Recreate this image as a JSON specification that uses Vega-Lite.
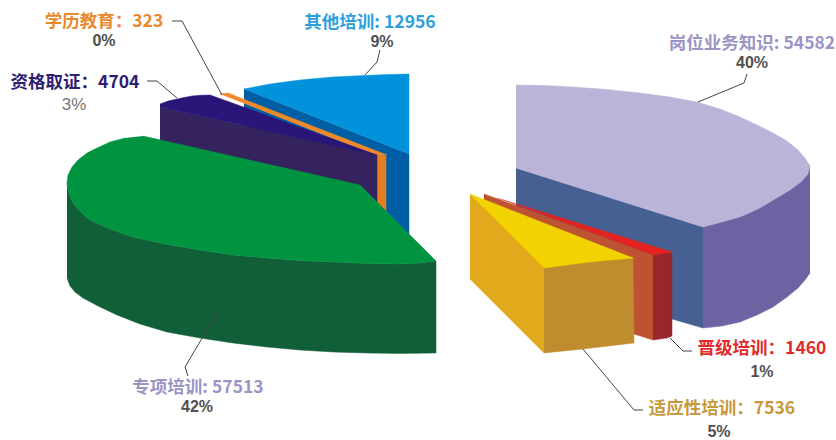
{"$schema":"https://vega.github.io/schema/vega-lite/v6.json","width":836,"height":440,"autosize":{"type":"fit","contains":"padding"},"padding":0,"background":"white","view":{"stroke":null},
"datasets":{
"shapes":[
{"part":"其他培训-侧","n":1,"x":244,"y":89},{"part":"其他培训-侧","n":2,"x":409,"y":154},{"part":"其他培训-侧","n":3,"x":409,"y":240},{"part":"其他培训-侧","n":4,"x":244,"y":240},
{"part":"其他培训-顶","n":1,"x":244,"y":89},{"part":"其他培训-顶","n":2,"x":257,"y":86.5},{"part":"其他培训-顶","n":3,"x":270,"y":84},{"part":"其他培训-顶","n":4,"x":285,"y":82},{"part":"其他培训-顶","n":5,"x":300,"y":80},{"part":"其他培训-顶","n":6,"x":316,"y":78.5},{"part":"其他培训-顶","n":7,"x":333,"y":77},{"part":"其他培训-顶","n":8,"x":349,"y":76.2},{"part":"其他培训-顶","n":9,"x":365,"y":75.5},{"part":"其他培训-顶","n":10,"x":387,"y":74.6},{"part":"其他培训-顶","n":11,"x":409,"y":74},{"part":"其他培训-顶","n":12,"x":409,"y":154},
{"part":"学历教育-侧","n":1,"x":377,"y":156},{"part":"学历教育-侧","n":2,"x":386,"y":156},{"part":"学历教育-侧","n":3,"x":386,"y":211},{"part":"学历教育-侧","n":4,"x":377,"y":202},
{"part":"学历教育-顶","n":1,"x":220,"y":94},{"part":"学历教育-顶","n":2,"x":228,"y":93},{"part":"学历教育-顶","n":3,"x":387,"y":155},{"part":"学历教育-顶","n":4,"x":377,"y":156},
{"part":"资格取证-侧","n":1,"x":160,"y":107},{"part":"资格取证-侧","n":2,"x":377,"y":155},{"part":"资格取证-侧","n":3,"x":377,"y":202},{"part":"资格取证-侧","n":4,"x":360,"y":186},{"part":"资格取证-侧","n":5,"x":160,"y":142},
{"part":"资格取证-顶","n":1,"x":160,"y":104},{"part":"资格取证-顶","n":2,"x":168,"y":101},{"part":"资格取证-顶","n":3,"x":177,"y":99},{"part":"资格取证-顶","n":4,"x":184,"y":97.5},{"part":"资格取证-顶","n":5,"x":192,"y":96},{"part":"资格取证-顶","n":6,"x":200,"y":95.3},{"part":"资格取证-顶","n":7,"x":210,"y":95},{"part":"资格取证-顶","n":8,"x":377,"y":155},{"part":"资格取证-顶","n":9,"x":160,"y":107},
{"part":"专项培训-侧","n":1,"x":67,"y":183},{"part":"专项培训-侧","n":2,"x":68,"y":190},{"part":"专项培训-侧","n":3,"x":70,"y":196},{"part":"专项培训-侧","n":4,"x":73,"y":203},{"part":"专项培训-侧","n":5,"x":78,"y":209},{"part":"专项培训-侧","n":6,"x":84,"y":215},{"part":"专项培训-侧","n":7,"x":90,"y":220},{"part":"专项培训-侧","n":8,"x":110,"y":229},{"part":"专项培训-侧","n":9,"x":133,"y":237},{"part":"专项培训-侧","n":10,"x":165,"y":244},{"part":"专项培训-侧","n":11,"x":200,"y":250},{"part":"专项培训-侧","n":12,"x":233,"y":255},{"part":"专项培训-侧","n":13,"x":267,"y":258},{"part":"专项培训-侧","n":14,"x":300,"y":260.5},{"part":"专项培训-侧","n":15,"x":333,"y":262},{"part":"专项培训-侧","n":16,"x":367,"y":263.5},{"part":"专项培训-侧","n":17,"x":400,"y":264},{"part":"专项培训-侧","n":18,"x":420,"y":263},{"part":"专项培训-侧","n":19,"x":436,"y":261},{"part":"专项培训-侧","n":20,"x":436,"y":353},{"part":"专项培训-侧","n":21,"x":400,"y":353.5},{"part":"专项培训-侧","n":22,"x":367,"y":353},{"part":"专项培训-侧","n":23,"x":333,"y":352},{"part":"专项培训-侧","n":24,"x":300,"y":350},{"part":"专项培训-侧","n":25,"x":267,"y":347},{"part":"专项培训-侧","n":26,"x":233,"y":343},{"part":"专项培训-侧","n":27,"x":200,"y":338},{"part":"专项培训-侧","n":28,"x":167,"y":332},{"part":"专项培训-侧","n":29,"x":140,"y":324},{"part":"专项培训-侧","n":30,"x":117,"y":315},{"part":"专项培训-侧","n":31,"x":98,"y":306},{"part":"专项培训-侧","n":32,"x":83,"y":298},{"part":"专项培训-侧","n":33,"x":75,"y":292},{"part":"专项培训-侧","n":34,"x":70,"y":286},{"part":"专项培训-侧","n":35,"x":67,"y":278},
{"part":"专项培训-顶","n":1,"x":143,"y":136},{"part":"专项培训-顶","n":2,"x":360,"y":185},{"part":"专项培训-顶","n":3,"x":436,"y":261},{"part":"专项培训-顶","n":4,"x":420,"y":263},{"part":"专项培训-顶","n":5,"x":400,"y":264},{"part":"专项培训-顶","n":6,"x":367,"y":263.5},{"part":"专项培训-顶","n":7,"x":333,"y":262},{"part":"专项培训-顶","n":8,"x":300,"y":260.5},{"part":"专项培训-顶","n":9,"x":267,"y":258},{"part":"专项培训-顶","n":10,"x":233,"y":255},{"part":"专项培训-顶","n":11,"x":200,"y":250},{"part":"专项培训-顶","n":12,"x":165,"y":244},{"part":"专项培训-顶","n":13,"x":133,"y":237},{"part":"专项培训-顶","n":14,"x":110,"y":229},{"part":"专项培训-顶","n":15,"x":90,"y":220},{"part":"专项培训-顶","n":16,"x":84,"y":215},{"part":"专项培训-顶","n":17,"x":78,"y":209},{"part":"专项培训-顶","n":18,"x":73,"y":203},{"part":"专项培训-顶","n":19,"x":70,"y":196},{"part":"专项培训-顶","n":20,"x":68,"y":190},{"part":"专项培训-顶","n":21,"x":67,"y":183},{"part":"专项培训-顶","n":22,"x":68,"y":175},{"part":"专项培训-顶","n":23,"x":72,"y":167},{"part":"专项培训-顶","n":24,"x":78,"y":160},{"part":"专项培训-顶","n":25,"x":87,"y":153},{"part":"专项培训-顶","n":26,"x":97,"y":148},{"part":"专项培训-顶","n":27,"x":110,"y":142},{"part":"专项培训-顶","n":28,"x":125,"y":138},
{"part":"岗位业务知识-内","n":1,"x":516,"y":168},{"part":"岗位业务知识-内","n":2,"x":703,"y":227},{"part":"岗位业务知识-内","n":3,"x":703,"y":328},{"part":"岗位业务知识-内","n":4,"x":672,"y":319},{"part":"岗位业务知识-内","n":5,"x":516,"y":250},
{"part":"岗位业务知识-侧","n":1,"x":810,"y":165},{"part":"岗位业务知识-侧","n":2,"x":703,"y":227},{"part":"岗位业务知识-侧","n":3,"x":703,"y":328},{"part":"岗位业务知识-侧","n":4,"x":722,"y":326},{"part":"岗位业务知识-侧","n":5,"x":740,"y":322},{"part":"岗位业务知识-侧","n":6,"x":757,"y":315},{"part":"岗位业务知识-侧","n":7,"x":773,"y":307},{"part":"岗位业务知识-侧","n":8,"x":787,"y":297},{"part":"岗位业务知识-侧","n":9,"x":798,"y":288},{"part":"岗位业务知识-侧","n":10,"x":805,"y":280},{"part":"岗位业务知识-侧","n":11,"x":810,"y":273},
{"part":"岗位业务知识-顶","n":1,"x":516,"y":85},{"part":"岗位业务知识-顶","n":2,"x":545,"y":85.5},{"part":"岗位业务知识-顶","n":3,"x":573,"y":87},{"part":"岗位业务知识-顶","n":4,"x":607,"y":89.5},{"part":"岗位业务知识-顶","n":5,"x":640,"y":93},{"part":"岗位业务知识-顶","n":6,"x":670,"y":97},{"part":"岗位业务知识-顶","n":7,"x":697,"y":102},{"part":"岗位业务知识-顶","n":8,"x":720,"y":109},{"part":"岗位业务知识-顶","n":9,"x":740,"y":117},{"part":"岗位业务知识-顶","n":10,"x":757,"y":125},{"part":"岗位业务知识-顶","n":11,"x":773,"y":133},{"part":"岗位业务知识-顶","n":12,"x":787,"y":141},{"part":"岗位业务知识-顶","n":13,"x":798,"y":150},{"part":"岗位业务知识-顶","n":14,"x":805,"y":158},{"part":"岗位业务知识-顶","n":15,"x":810,"y":166},{"part":"岗位业务知识-顶","n":16,"x":808,"y":174},{"part":"岗位业务知识-顶","n":17,"x":801,"y":182},{"part":"岗位业务知识-顶","n":18,"x":790,"y":190},{"part":"岗位业务知识-顶","n":19,"x":775,"y":199},{"part":"岗位业务知识-顶","n":20,"x":758,"y":209},{"part":"岗位业务知识-顶","n":21,"x":740,"y":217},{"part":"岗位业务知识-顶","n":22,"x":722,"y":222},{"part":"岗位业务知识-顶","n":23,"x":703,"y":227},{"part":"岗位业务知识-顶","n":24,"x":516,"y":168},
{"part":"晋级培训-内","n":1,"x":484,"y":194},{"part":"晋级培训-内","n":2,"x":653,"y":255},{"part":"晋级培训-内","n":3,"x":653,"y":340},{"part":"晋级培训-内","n":4,"x":634,"y":334},{"part":"晋级培训-内","n":5,"x":484,"y":270},
{"part":"晋级培训-侧","n":1,"x":653,"y":255},{"part":"晋级培训-侧","n":2,"x":672,"y":252},{"part":"晋级培训-侧","n":3,"x":672,"y":336},{"part":"晋级培训-侧","n":4,"x":667,"y":338},{"part":"晋级培训-侧","n":5,"x":653,"y":340},
{"part":"晋级培训-顶","n":1,"x":497,"y":198},{"part":"晋级培训-顶","n":2,"x":672,"y":252},{"part":"晋级培训-顶","n":3,"x":653,"y":255},
{"part":"适应性培训-内","n":1,"x":470,"y":194},{"part":"适应性培训-内","n":2,"x":544,"y":268},{"part":"适应性培训-内","n":3,"x":544,"y":353},{"part":"适应性培训-内","n":4,"x":470,"y":279},
{"part":"适应性培训-侧","n":1,"x":544,"y":268},{"part":"适应性培训-侧","n":2,"x":590,"y":262},{"part":"适应性培训-侧","n":3,"x":633,"y":258},{"part":"适应性培训-侧","n":4,"x":634,"y":343},{"part":"适应性培训-侧","n":5,"x":583,"y":349},{"part":"适应性培训-侧","n":6,"x":544,"y":353},
{"part":"适应性培训-顶","n":1,"x":470,"y":194},{"part":"适应性培训-顶","n":2,"x":633,"y":258},{"part":"适应性培训-顶","n":3,"x":590,"y":262},{"part":"适应性培训-顶","n":4,"x":544,"y":268}
],
"leaders":[
{"name":"其他培训","n":1,"x":365,"y":75},{"name":"其他培训","n":2,"x":377,"y":62},{"name":"其他培训","n":3,"x":380,"y":50},
{"name":"学历教育","n":1,"x":172,"y":21},{"name":"学历教育","n":2,"x":182,"y":21},{"name":"学历教育","n":3,"x":222,"y":95},
{"name":"资格取证","n":1,"x":147,"y":81},{"name":"资格取证","n":2,"x":157,"y":81},{"name":"资格取证","n":3,"x":177,"y":98},
{"name":"专项培训","n":1,"x":217,"y":313},{"name":"专项培训","n":2,"x":185,"y":367},{"name":"专项培训","n":3,"x":188,"y":376},
{"name":"岗位业务知识","n":1,"x":747,"y":74},{"name":"岗位业务知识","n":2,"x":744,"y":83},{"name":"岗位业务知识","n":3,"x":698,"y":102},
{"name":"晋级培训","n":1,"x":670,"y":338},{"name":"晋级培训","n":2,"x":683,"y":351},{"name":"晋级培训","n":3,"x":692,"y":351},
{"name":"适应性培训","n":1,"x":583,"y":349},{"name":"适应性培训","n":2,"x":634,"y":410},{"name":"适应性培训","n":3,"x":643,"y":410}
],
"labels":[
{"text":"学历教育：323","name":"学历教育","x":104,"y":22},
{"text":"其他培训: 12956","name":"其他培训","x":370,"y":23},
{"text":"资格取证：4704","name":"资格取证","x":75,"y":83},
{"text":"专项培训: 57513","name":"专项培训","x":198,"y":388},
{"text":"岗位业务知识: 54582","name":"岗位业务知识","x":752,"y":44},
{"text":"晋级培训：1460","name":"晋级培训","x":762,"y":349},
{"text":"适应性培训：7536","name":"适应性培训","x":722,"y":409}
],
"shares":[
{"text":"0%","x":104,"y":41},{"text":"9%","x":382,"y":42},{"text":"42%","x":197,"y":407},{"text":"40%","x":752,"y":63},{"text":"1%","x":762,"y":372},{"text":"5%","x":719,"y":432}
],
"thin":[{"text":"3%","x":74,"y":105}]
},
"layer":[
{"data":{"name":"shapes"},"mark":{"type":"line","strokeWidth":0.5,"interpolate":"linear"},
"encoding":{
"x":{"field":"x","type":"quantitative","scale":{"domain":[0,836],"nice":false,"zero":false},"axis":null},
"y":{"field":"y","type":"quantitative","scale":{"domain":[440,0],"nice":false,"zero":false},"axis":null},
"order":{"field":"n","type":"quantitative"},
"detail":{"field":"part","type":"nominal"},
"fill":{"field":"part","type":"nominal","legend":null,"scale":{"domain":["其他培训-侧","其他培训-顶","学历教育-侧","学历教育-顶","资格取证-侧","资格取证-顶","专项培训-侧","专项培训-顶","岗位业务知识-内","岗位业务知识-侧","岗位业务知识-顶","晋级培训-内","晋级培训-侧","晋级培训-顶","适应性培训-内","适应性培训-侧","适应性培训-顶"],"range":["#005FA4","#0092DB","#E67E22","#EE8A2A","#35235F","#2A1678","#115F38","#009440","#466092","#6D62A2","#B9B4D8","#BD5330","#98262A","#E2231F","#E3A91C","#C08D2E","#F2D200"]}},
"stroke":{"field":"part","type":"nominal","legend":null,"scale":{"domain":["其他培训-侧","其他培训-顶","学历教育-侧","学历教育-顶","资格取证-侧","资格取证-顶","专项培训-侧","专项培训-顶","岗位业务知识-内","岗位业务知识-侧","岗位业务知识-顶","晋级培训-内","晋级培训-侧","晋级培训-顶","适应性培训-内","适应性培训-侧","适应性培训-顶"],"range":["#005FA4","#0092DB","#E67E22","#EE8A2A","#35235F","#2A1678","#115F38","#009440","#466092","#6D62A2","#B9B4D8","#BD5330","#98262A","#E2231F","#E3A91C","#C08D2E","#F2D200"]}}
}},
{"data":{"name":"leaders"},"mark":{"type":"line","color":"#444444","strokeWidth":1,"interpolate":"linear"},
"encoding":{"x":{"field":"x","type":"quantitative"},"y":{"field":"y","type":"quantitative"},"order":{"field":"n","type":"quantitative"},"detail":{"field":"name","type":"nominal"}}},
{"data":{"name":"labels"},"mark":{"type":"text","font":"Noto Sans CJK SC","fontWeight":"bold","fontSize":17.5,"align":"center","baseline":"middle"},
"encoding":{"x":{"field":"x","type":"quantitative"},"y":{"field":"y","type":"quantitative"},"text":{"field":"text","type":"nominal"},
"color":{"field":"name","type":"nominal","legend":null,"scale":{"domain":["学历教育","其他培训","资格取证","专项培训","岗位业务知识","晋级培训","适应性培训"],"range":["#E9892C","#2D9FDC","#2E2070","#9B95C6","#9B95C6","#E02B2B","#C6993C"]}}}},
{"data":{"name":"shares"},"mark":{"type":"text","font":"Liberation Sans","fontWeight":"bold","fontSize":16,"align":"center","baseline":"middle","color":"#505050"},
"encoding":{"x":{"field":"x","type":"quantitative"},"y":{"field":"y","type":"quantitative"},"text":{"field":"text","type":"nominal"}}},
{"data":{"name":"thin"},"mark":{"type":"text","font":"Liberation Sans","fontSize":17,"align":"center","baseline":"middle","color":"#777777"},
"encoding":{"x":{"field":"x","type":"quantitative"},"y":{"field":"y","type":"quantitative"},"text":{"field":"text","type":"nominal"}}}
]}
